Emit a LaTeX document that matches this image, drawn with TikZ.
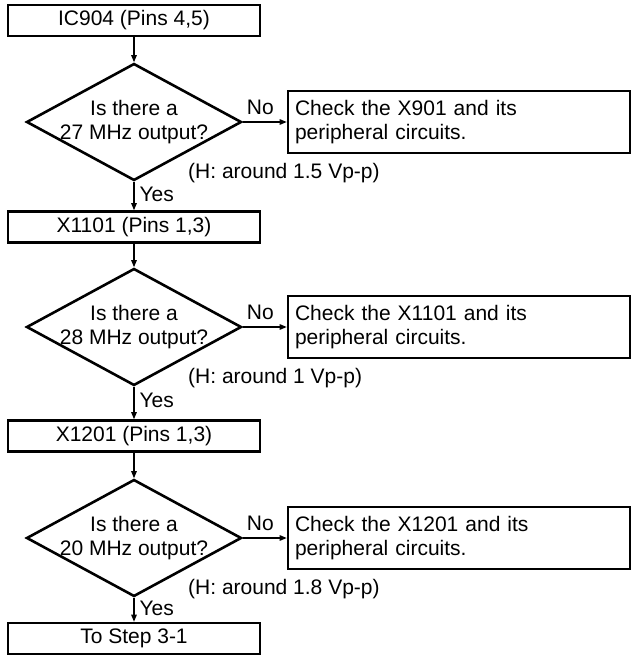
\documentclass[tikz,border=0pt]{standalone}
\usepackage{fontspec}
\setmainfont{Liberation Sans}
\usetikzlibrary{arrows.meta,shapes.geometric}
\begin{document}
\begin{tikzpicture}[x=1pt,y=-1pt,
  every node/.style={font=\fontsize{21}{24}\selectfont},
  stepbox/.style={draw, line width=2.6pt, minimum width=252pt, minimum height=31pt, inner sep=0pt},
  checkbox/.style={draw, line width=2.6pt, minimum width=342pt, minimum height=62pt, text width=328pt, align=left, inner sep=7pt},
  decision/.style={diamond, draw, line width=2.6pt, minimum width=215pt, minimum height=117pt, inner sep=0pt},
  qtext/.style={align=center, inner sep=0pt},
  flow/.style={line width=1.2pt, -{Triangle[length=7pt,width=5.5pt]}},
  lab/.style={inner sep=0pt}]
\useasboundingbox (0,0) rectangle (633,666);

% step boxes
\node[stepbox] (s1) at (134,20.5) {IC904 (Pins 4,5)};
\node[stepbox] (s2) at (134,227) {X1101 (Pins 1,3)};
\node[stepbox] (s3) at (134,436) {X1201 (Pins 1,3)};
\node[stepbox] (s4) at (134,638.5) {To Step 3-1};

% decisions
\node[decision] (q1) at (134,122) {};
\node[qtext] (q1t) at (q1.center) {Is there a\\27 MHz output?};
\node[decision] (q2) at (134,327) {};
\node[qtext] (q2t) at (q2.center) {Is there a\\28 MHz output?};
\node[decision] (q3) at (134,538) {};
\node[qtext] (q3t) at (q3.center) {Is there a\\20 MHz output?};

% check boxes
\node[checkbox] (c1) at (459,122) {Check the X901 and its\\peripheral circuits.};
\node[checkbox] (c2) at (459,327) {Check the X1101 and its\\peripheral circuits.};
\node[checkbox] (c3) at (459,538) {Check the X1201 and its\\peripheral circuits.};

% notes
\node[lab, anchor=west] (h1) at ([xshift=54pt,yshift=-51pt]q1.center) {(H: around 1.5 Vp-p)};
\node[lab, anchor=west] (h2) at ([xshift=54pt,yshift=-51pt]q2.center) {(H: around 1 Vp-p)};
\node[lab, anchor=west] (h3) at ([xshift=54pt,yshift=-51pt]q3.center) {(H: around 1.8 Vp-p)};

% connectors
\draw[flow] (s1) -- (q1);
\draw[flow] (q1) -- node[lab, right=5pt, pos=0.45] {Yes} (s2);
\draw[flow] (q1) -- node[lab, above=7pt, pos=0.4] {No} (c1);
\draw[flow] (s2) -- (q2);
\draw[flow] (q2) -- node[lab, right=5pt, pos=0.43] {Yes} (s3);
\draw[flow] (q2) -- node[lab, above=7pt, pos=0.4] {No} (c2);
\draw[flow] (s3) -- (q3);
\draw[flow] (q3) -- node[lab, right=5pt, pos=0.43] {Yes} (s4);
\draw[flow] (q3) -- node[lab, above=7pt, pos=0.4] {No} (c3);
\end{tikzpicture}
\end{document}
